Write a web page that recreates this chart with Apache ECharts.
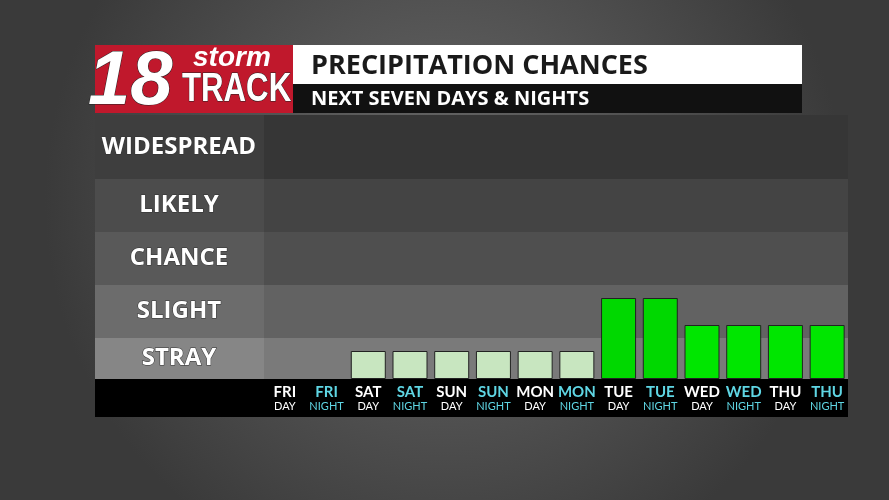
<!DOCTYPE html>
<html><head><meta charset="utf-8">
<script src="https://cdn.jsdelivr.net/npm/echarts@6/dist/echarts.min.js"></script>
<style>html,body{margin:0;padding:0;background:#555}#main{width:889px;height:500px}</style>
</head><body><div id="main"></div>
<script>
var days = ['FRI','FRI','SAT','SAT','SUN','SUN','MON','MON','TUE','TUE','WED','WED','THU','THU'];
var parts = ['DAY','NIGHT','DAY','NIGHT','DAY','NIGHT','DAY','NIGHT','DAY','NIGHT','DAY','NIGHT','DAY','NIGHT'];
var values = [0, 0, 28, 28, 28, 28, 28, 28, 81, 81, 54, 54, 54, 54];
var bandNames = ['STRAY','SLIGHT','CHANCE','LIKELY','WIDESPREAD'];
var bandEdges = [0, 41, 94, 147, 200, 264];
var bandColors = ['#7a7a7a','#626262','#4f4f4f','#444444','#363636'];
var labelColors = ['#868686','#6c6c6c','#595959','#4c4c4c','#3e3e3e'];

var chart = echarts.init(document.getElementById('main'));
var cats = days.map(function(d, i){ return d + '\n' + parts[i]; });

var areas = bandNames.map(function(n, i){
    return [{yAxis: bandEdges[i], itemStyle: {color: bandColors[i]}}, {yAxis: bandEdges[i+1]}];
});

var option = {
    backgroundColor: {
        type: 'radial', x: 0.5, y: 0.4, r: 0.8,
        colorStops: [{offset: 0, color: '#6a6a6a'}, {offset: 1, color: '#3a3a3a'}]
    },
    grid: {left: 264, right: 41, top: 115, bottom: 121},
    xAxis: {
        type: 'category', data: cats,
        axisLine: {show: false}, axisTick: {show: false},
        axisLabel: {
            margin: 6, interval: 0,
            formatter: function(v, i){
                var p = v.split('\n');
                var s = p[1] === 'NIGHT' ? 'n' : 'd';
                return '{' + s + 'a|' + p[0] + '}\n{' + s + 'b|' + p[1] + '}';
            },
            rich: {
                da: {color: '#fff', fontSize: 15, fontWeight: 'bold', fontFamily: 'Lato', lineHeight: 15},
                db: {color: '#fff', fontSize: 11, fontFamily: 'Lato', lineHeight: 13},
                na: {color: '#5fd6e4', fontSize: 15, fontWeight: 'bold', fontFamily: 'Lato', lineHeight: 15},
                nb: {color: '#5fd6e4', fontSize: 11, fontFamily: 'Lato', lineHeight: 13}
            }
        }
    },
    yAxis: {type: 'value', min: 0, max: 264, show: false},
    series: [{
        type: 'bar', barWidth: 35, data: values.map(function(v){
            return {value: v, itemStyle: {
                color: v > 60 ? '#00d800' : (v > 40 ? '#00e600' : '#c8e6c0'),
                borderWidth: v > 0 ? 1 : 0
            }};
        }),
        itemStyle: {borderColor: '#222'},
        markArea: {silent: true, data: areas},
        z: 3
    }],
    graphic: []
};
chart.setOption(option);

var g = [];
g.push({type: 'rect', shape: {x: 95, y: 379, width: 753, height: 38}, style: {fill: '#000'}, z: 0});
bandNames.forEach(function(n, i){
    var y0 = chart.convertToPixel({yAxisIndex: 0}, bandEdges[i]);
    var y1 = chart.convertToPixel({yAxisIndex: 0}, bandEdges[i+1]);
    g.push({type: 'rect', shape: {x: 95, y: y1, width: 169, height: y0 - y1}, style: {fill: labelColors[i]}, z: 0});
    g.push({type: 'text', x: 179, y: (y0 + y1) / 2, style: {
        text: n, fill: '#fff', font: 'bold 24px "Open Sans"', align: 'center', verticalAlign: 'middle',
        stroke: '#333', lineWidth: 1
    }, z: 10});
});
// header
g.push({type: 'rect', shape: {x: 95, y: 45, width: 198, height: 68}, style: {fill: '#c0182c'}, z: 10});
g.push({type: 'rect', shape: {x: 293, y: 45, width: 509, height: 39}, style: {fill: '#fff'}, z: 10});
g.push({type: 'rect', shape: {x: 293, y: 84, width: 509, height: 29}, style: {fill: '#111'}, z: 10});
g.push({type: 'text', x: 88, y: 45, style: {text: '18', fill: '#fff', font: 'italic bold 76px "Liberation Sans"', stroke: '#222', lineWidth: 1}, z: 11});
g.push({type: 'text', x: 193, y: 44, style: {text: 'storm', fill: '#fff', font: 'italic bold 28px "Liberation Sans"'}, z: 11});
g.push({type: 'text', x: 182, y: 70, scaleX: 0.78, originX: 0, originY: 0, style: {text: 'TRACK', fill: '#fff', font: 'bold 40px "Liberation Sans"', stroke: '#222', lineWidth: 1}, z: 11});
g.push({type: 'text', x: 311, y: 66, style: {text: 'PRECIPITATION CHANCES', fill: '#1a1a1a', font: 'bold 27px "Open Sans"', verticalAlign: 'middle'}, z: 11});
g.push({type: 'text', x: 311, y: 99, style: {text: 'NEXT SEVEN DAYS & NIGHTS', fill: '#fff', font: 'bold 20px "Open Sans"', verticalAlign: 'middle'}, z: 11});
chart.setOption({graphic: g});
</script></body></html>
